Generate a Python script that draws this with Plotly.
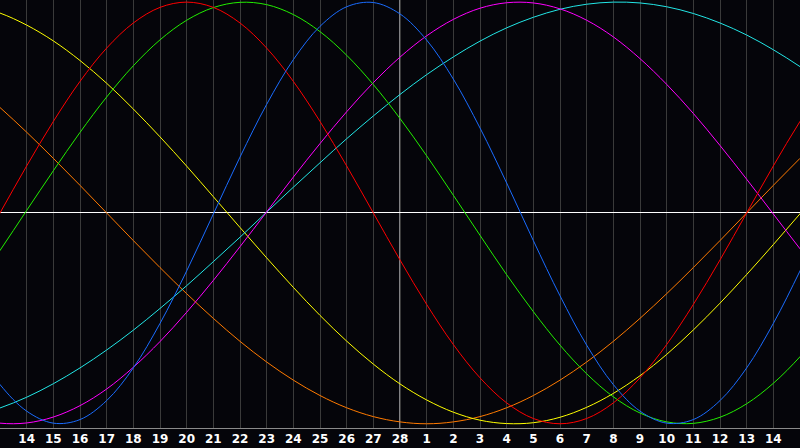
import plotly.graph_objects as go

# day index -1..31 (the chart shows 0..30), labelled grid lines at 1..29
days = list(range(-1, 32))
tick_days = list(range(1, 30))
tick_labels = ['14', '15', '16', '17', '18', '19', '20', '21', '22', '23', '24',
               '25', '26', '27', '28', '1', '2', '3', '4', '5', '6', '7', '8',
               '9', '10', '11', '12', '13', '14']
today = 15

red = [-0.223, 0.0, 0.223, 0.434, 0.624, 0.782, 0.901, 0.975, 1.0, 0.975,
       0.901, 0.782, 0.624, 0.434, 0.223, 0.0, -0.223, -0.434, -0.624,
       -0.782, -0.901, -0.975, -1.0, -0.975, -0.901, -0.782, -0.624, -0.434,
       -0.223, 0.0, 0.223, 0.434, 0.624]
green = [-0.361, -0.178, 0.012, 0.200, 0.382, 0.550, 0.698, 0.821, 0.914,
         0.974, 0.999, 0.988, 0.941, 0.860, 0.748, 0.609, 0.448, 0.271,
         0.084, -0.106, -0.293, -0.468, -0.627, -0.763, -0.872, -0.949,
         -0.991, -0.998, -0.969, -0.905, -0.808, -0.682, -0.531]
blue = [-0.627, -0.814, -0.940, -0.997, -0.980, -0.890, -0.735, -0.524,
        -0.275, -0.005, 0.265, 0.515, 0.727, 0.885, 0.978, 0.998, 0.944,
        0.820, 0.635, 0.403, 0.142, -0.131, -0.393, -0.627, -0.814, -0.940,
        -0.997, -0.980, -0.890, -0.735, -0.524, -0.275, -0.005]
magenta = [-0.971, -0.997, -0.996, -0.968, -0.914, -0.835, -0.732, -0.610,
           -0.471, -0.320, -0.160, 0.005, 0.170, 0.329, 0.480, 0.618, 0.739,
           0.840, 0.918, 0.971, 0.997, 0.996, 0.968, 0.914, 0.835, 0.732,
           0.610, 0.472, 0.320, 0.160, -0.005, -0.170, -0.330]
cyan = [-0.964, -0.925, -0.874, -0.810, -0.735, -0.650, -0.556, -0.453,
        -0.345, -0.231, -0.115, 0.004, 0.122, 0.238, 0.352, 0.460, 0.562,
        0.656, 0.740, 0.815, 0.878, 0.928, 0.966, 0.990, 1.0, 0.996, 0.978,
        0.946, 0.901, 0.844, 0.774, 0.694, 0.604]
yellow = [0.984, 0.948, 0.891, 0.816, 0.723, 0.615, 0.493, 0.361, 0.222,
          0.077, -0.069, -0.213, -0.353, -0.486, -0.608, -0.717, -0.811,
          -0.887, -0.945, -0.983, -0.999, -0.995, -0.969, -0.922, -0.856,
          -0.772, -0.671, -0.555, -0.428, -0.292, -0.150, -0.004, 0.141]
orange = [0.609, 0.5, 0.383, 0.259, 0.131, 0.0, -0.131, -0.259, -0.383,
          -0.5, -0.609, -0.707, -0.793, -0.866, -0.924, -0.966, -0.991, -1.0,
          -0.991, -0.966, -0.924, -0.866, -0.793, -0.707, -0.609, -0.5,
          -0.383, -0.259, -0.131, 0.0, 0.131, 0.259, 0.383]

series = [
    (orange, '#ff7a00'),
    (yellow, '#ffff00'),
    (cyan, '#22e6e6'),
    (magenta, '#ff00ff'),
    (green, '#22ee00'),
    (red, '#ff0000'),
    (blue, '#1a6cff'),
]

fig = go.Figure()
for vals, col in series:
    fig.add_trace(go.Scatter(x=days, y=vals, mode='lines',
                             line=dict(color=col, width=1, shape='spline',
                                       smoothing=1),
                             hoverinfo='skip'))

fig.add_shape(type='line', x0=today, x1=today, y0=-1.02, y1=1.01,
              line=dict(color='white', width=1), layer='below')

fig.update_layout(
    width=800, height=448,
    margin=dict(l=0, r=0, t=0, b=20),
    paper_bgcolor='#05050a', plot_bgcolor='#05050a',
    showlegend=False,
)
fig.update_xaxes(
    range=[0, 30], tickvals=tick_days, ticktext=tick_labels,
    showgrid=True, gridcolor='#3a3a3a', gridwidth=1,
    zeroline=False, showline=True, linecolor='#8a8a8a', linewidth=1,
    mirror=True, ticks='', ticklen=0,
    tickfont=dict(family='Verdana, DejaVu Sans', size=12, color='white',
                  weight='bold'),
)
fig.update_yaxes(
    range=[-1.02, 1.01], showgrid=False, showticklabels=False,
    zeroline=True, zerolinecolor='white', zerolinewidth=1,
    showline=True, linecolor='#8a8a8a', linewidth=1,
)

# the page's default body margin would shift the chart by 8px
fig.write_html("out.html", config={'displayModeBar': False},
               post_script="document.body.style.margin='0';")
